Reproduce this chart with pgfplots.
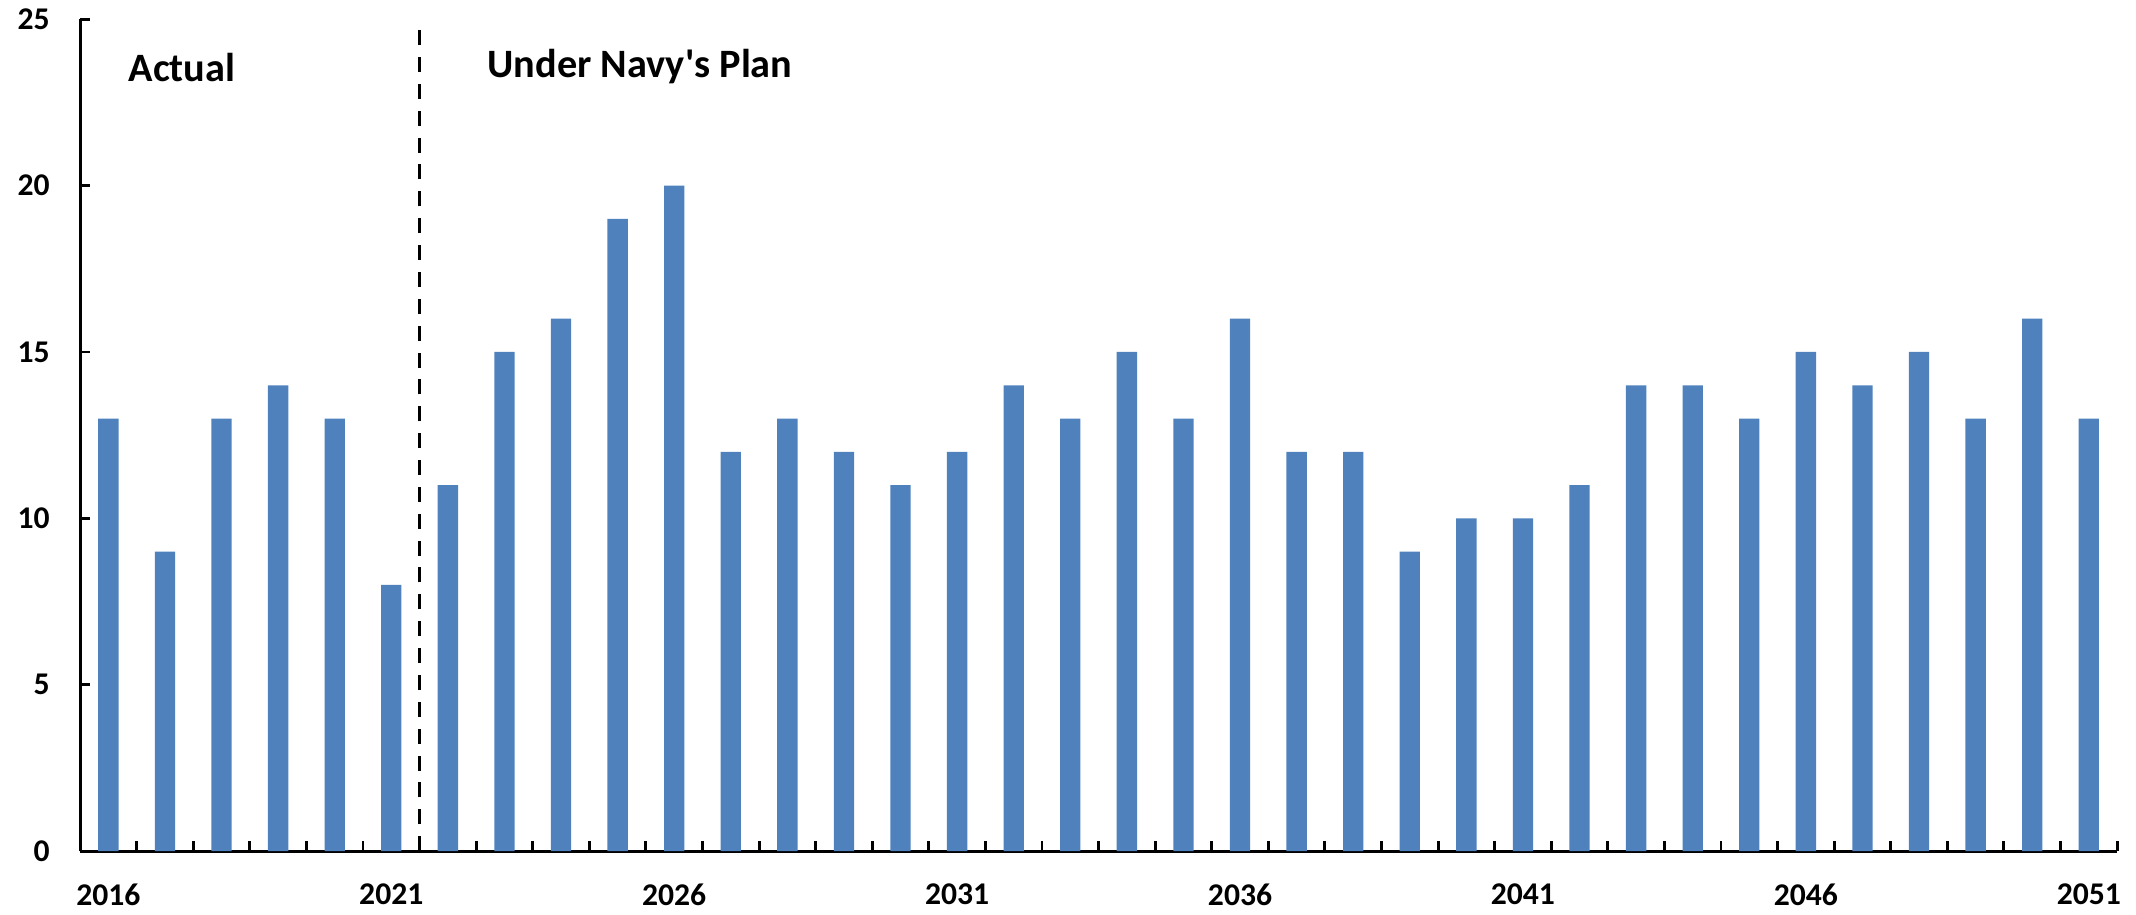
\documentclass[border=0pt]{standalone}
\usepackage{fontspec}
\setmainfont{Carlito}
\usepackage{pgfplots}
\pgfplotsset{compat=1.18}
\definecolor{barblue}{HTML}{4F81BD}
\begin{document}
\begin{tikzpicture}
\begin{axis}[
    scale only axis,
    width=27.18cm, height=11.10cm,
    xmin=-0.5, xmax=35.5,
    ymin=0, ymax=25,
    axis x line*=bottom,
    axis y line*=left,
    axis line style={-, line width=1.1pt},
    every tick/.style={black, line width=1.1pt},
    major tick length=3.8pt,
    tick align=inside,
    xtick={-0.5,0.5,...,35.5},
    xticklabels={},
    extra x ticks={0,5,...,35},
    extra x tick labels={2016,2021,2026,2031,2036,2041,2046,2051},
    extra x tick style={major tick length=0pt},
    ytick={0,5,...,25},
    /pgf/number format/assume math mode=true,
    ticklabel style={font=\bfseries\fontsize{12}{14}\selectfont},
    yticklabel style={xshift=-8pt},
    xticklabel style={yshift=-9pt},
    clip=false,
]
\addplot[ybar, bar width=0.36, fill=barblue, draw=none] coordinates {
(0,13)(1,9)(2,13)(3,14)(4,13)(5,8)(6,11)(7,15)(8,16)(9,19)
(10,20)(11,12)(12,13)(13,12)(14,11)(15,12)(16,14)(17,13)(18,15)(19,13)
(20,16)(21,12)(22,12)(23,9)(24,10)(25,10)(26,11)(27,14)(28,14)(29,13)
(30,15)(31,14)(32,15)(33,13)(34,16)(35,13)};
\draw[line width=1.4pt, dash pattern=on 5.7pt off 4.5pt] (axis cs:5.5,0) -- (axis cs:5.5,24.76);
\node[anchor=base west, font=\bfseries\fontsize{15.3}{18}\selectfont, inner sep=0pt] at (axis cs:0.35,23.14) {Actual};
\node[anchor=base west, font=\bfseries\fontsize{15.3}{18}\selectfont, inner sep=0pt] at (axis cs:6.69,23.26) {Under Navy\textquotesingle s Plan};
\path (rel axis cs:-0.0393,-0.072) rectangle (rel axis cs:1.0093,1.0204);
\end{axis}
\end{tikzpicture}
\end{document}
